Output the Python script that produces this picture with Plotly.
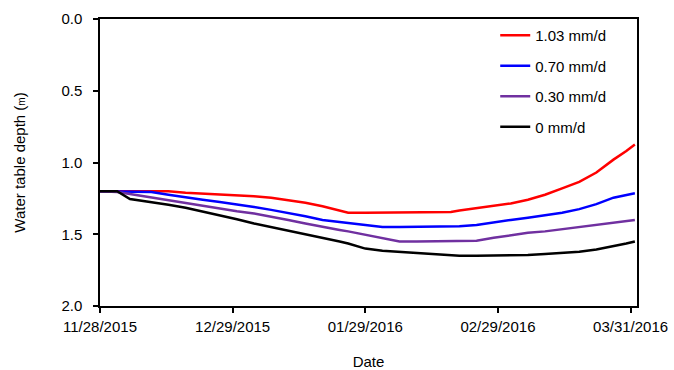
import pandas as pd
import plotly.graph_objects as go

# Observation dates (model output sampled along the season)
dates = [
    "2015-11-28", "2015-12-02", "2015-12-05", "2015-12-10", "2015-12-14",
    "2015-12-18", "2015-12-22", "2015-12-26", "2015-12-30", "2016-01-03",
    "2016-01-07", "2016-01-11", "2016-01-15", "2016-01-19", "2016-01-23",
    "2016-01-25", "2016-01-29", "2016-02-02", "2016-02-06", "2016-02-10",
    "2016-02-14", "2016-02-18", "2016-02-20", "2016-02-24", "2016-02-28",
    "2016-03-03", "2016-03-07", "2016-03-11", "2016-03-15", "2016-03-19",
    "2016-03-23", "2016-03-27", "2016-03-30", "2016-04-01",
]

# Water table depth (m) for each recharge rate
depth_103 = [1.20, 1.20, 1.20, 1.20, 1.20, 1.21, 1.215, 1.22, 1.23, 1.235,
             1.245, 1.26, 1.28, 1.305, 1.335, 1.35, 1.35, 1.35, 1.35, 1.35,
             1.35, 1.345, 1.335, 1.32, 1.30, 1.285, 1.26, 1.225, 1.18, 1.135,
             1.07, 0.98, 0.92, 0.875]
depth_070 = [1.20, 1.20, 1.20, 1.205, 1.225, 1.245, 1.26, 1.275, 1.29, 1.31,
             1.33, 1.35, 1.375, 1.40, 1.415, 1.42, 1.435, 1.45, 1.45, 1.45,
             1.45, 1.45, 1.445, 1.435, 1.415, 1.40, 1.385, 1.37, 1.35, 1.325,
             1.29, 1.245, 1.225, 1.215]
depth_030 = [1.20, 1.205, 1.22, 1.245, 1.265, 1.285, 1.30, 1.32, 1.34, 1.355,
             1.375, 1.40, 1.425, 1.45, 1.47, 1.48, 1.505, 1.53, 1.55, 1.55,
             1.55, 1.55, 1.55, 1.545, 1.525, 1.505, 1.49, 1.48, 1.465, 1.45,
             1.435, 1.42, 1.405, 1.40]
depth_000 = [1.20, 1.20, 1.255, 1.275, 1.295, 1.315, 1.34, 1.365, 1.395, 1.425,
             1.45, 1.475, 1.50, 1.52, 1.55, 1.565, 1.60, 1.615, 1.622, 1.63,
             1.64, 1.648, 1.65, 1.65, 1.65, 1.65, 1.645, 1.637, 1.632, 1.622,
             1.607, 1.585, 1.565, 1.55]

series_names = ["1.03 mm/d", "0.70 mm/d", "0.30 mm/d", "0 mm/d"]
series_colors = ["#FF0000", "#0000FF", "#7030A0", "#000000"]

x_tick_dates = ["2015-11-28", "2015-12-29", "2016-01-29", "2016-02-29", "2016-03-31"]
x_tick_labels = ["11/28/2015", "12/29/2015", "01/29/2016", "02/29/2016", "03/31/2016"]
y_tick_vals = [0.0, 0.5, 1.0, 1.5, 2.0]

x = pd.to_datetime(dates)
font_family = "Liberation Sans, Arial, sans-serif"

fig = go.Figure()
for i, (name, color, ys) in enumerate(zip(series_names, series_colors,
                                         [depth_103, depth_070, depth_030, depth_000])):
    fig.add_trace(go.Scatter(
        x=x, y=ys, mode="lines", name=name, legendgroup=f"g{i}",
        line=dict(color=color, width=2.5),
    ))

axis_common = dict(
    showgrid=False, zeroline=False, showline=True, linecolor="black",
    linewidth=1.5, mirror=True, ticks="outside", ticklen=5, tickwidth=1.5,
    tickcolor="black", tickfont=dict(size=15, color="black", family=font_family),
    automargin=False,
)

fig.update_layout(
    width=674, height=370,
    margin=dict(l=100, r=37, t=19, b=64),
    paper_bgcolor="white", plot_bgcolor="white",
    font=dict(family=font_family, color="black", size=15),
    showlegend=True,
    legend=dict(
        x=0.736, y=1.0, xanchor="left", yanchor="top",
        bgcolor="rgba(0,0,0,0)", borderwidth=0,
        font=dict(size=15, color="black"),
        tracegroupgap=8, itemwidth=30,
    ),
    xaxis=dict(
        axis_common,
        range=[pd.Timestamp("2015-11-28"), pd.Timestamp("2016-04-01 12:00")],
        tickvals=pd.to_datetime(x_tick_dates), ticktext=x_tick_labels,
        ticklabelstandoff=1,
        title=dict(text="Date", font=dict(size=15), standoff=23),
    ),
    yaxis=dict(
        axis_common,
        range=[2.0, 0.0], tickvals=y_tick_vals, tickformat=".1f",
        ticklabelstandoff=8,
        title=dict(text="Water table depth (<span style='font-size:10px'>m</span>)",
                   font=dict(size=15), standoff=32),
    ),
)

fig.write_html("out.html")
